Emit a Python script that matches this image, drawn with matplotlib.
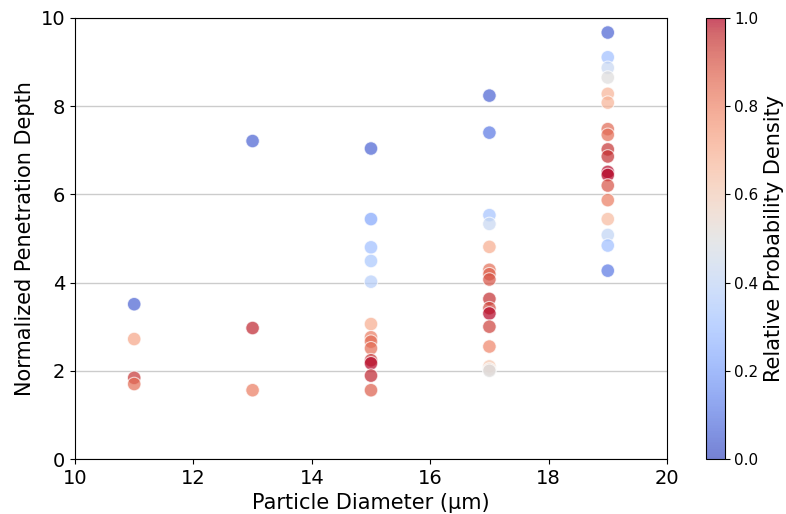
import matplotlib
matplotlib.use("Agg")
import matplotlib.pyplot as plt
import numpy as np

diameter = [11, 11, 11, 11,
            13, 13, 13,
            15, 15, 15, 15, 15, 15, 15, 15, 15, 15, 15, 15, 15,
            17, 17, 17, 17, 17, 17, 17, 17, 17, 17, 17, 17, 17, 17, 17, 17,
            19, 19, 19, 19, 19, 19, 19, 19, 19, 19, 19, 19, 19, 19, 19, 19, 19, 19]
depth = [3.51, 2.72, 1.84, 1.70,
         7.21, 2.97, 1.56,
         7.04, 5.44, 4.80, 4.49, 4.02, 3.06, 2.76, 2.66, 2.51, 2.24, 2.17, 1.89, 1.56,
         8.24, 7.40, 5.53, 5.33, 4.81, 4.29, 4.19, 4.07, 3.63, 3.42, 3.30, 3.00, 2.55, 2.10, 2.03, 2.00,
         9.67, 9.11, 8.87, 8.65, 8.28, 8.08, 7.48, 7.35, 7.02, 6.86, 6.51, 6.44, 6.20, 5.87, 5.44, 5.08, 4.84, 4.27]
density = [0.05, 0.72, 0.95, 0.85,
           0.05, 0.97, 0.82,
           0.05, 0.22, 0.30, 0.33, 0.37, 0.70, 0.82, 0.85, 0.85, 0.95, 1.00, 0.97, 0.88,
           0.05, 0.10, 0.32, 0.42, 0.70, 0.85, 0.87, 0.90, 0.96, 0.92, 1.00, 0.93, 0.80, 0.62, 0.55, 0.50,
           0.05, 0.30, 0.42, 0.50, 0.68, 0.68, 0.86, 0.85, 0.95, 0.96, 1.00, 1.00, 0.90, 0.82, 0.66, 0.40, 0.30, 0.10]

fig = plt.figure(figsize=(7.86, 5.14), dpi=100)
ax = fig.add_axes([0.0954, 0.107, 0.7532, 0.858])
cax = fig.add_axes([0.898, 0.107, 0.024, 0.858])

sc = ax.scatter(diameter, depth, c=density, cmap="coolwarm", vmin=0, vmax=1,
                s=95, alpha=0.7, edgecolors="white", linewidths=0.8, zorder=3)
ax.set_xlim(10, 20)
ax.set_ylim(0, 10)
ax.set_xticks([10, 12, 14, 16, 18, 20])
ax.set_yticks([0, 2, 4, 6, 8, 10])
ax.tick_params(labelsize=14)
ax.yaxis.grid(True, color="#cccccc", linewidth=1)
ax.set_axisbelow(True)
ax.set_xlabel("Particle Diameter (μm)", fontsize=15)
ax.set_ylabel("Normalized Penetration Depth", fontsize=15)

cb = fig.colorbar(sc, cax=cax)
cb.set_label("Relative Probability Density", fontsize=15)
cb.ax.tick_params(labelsize=11)

fig.savefig("out.png", dpi=100)
